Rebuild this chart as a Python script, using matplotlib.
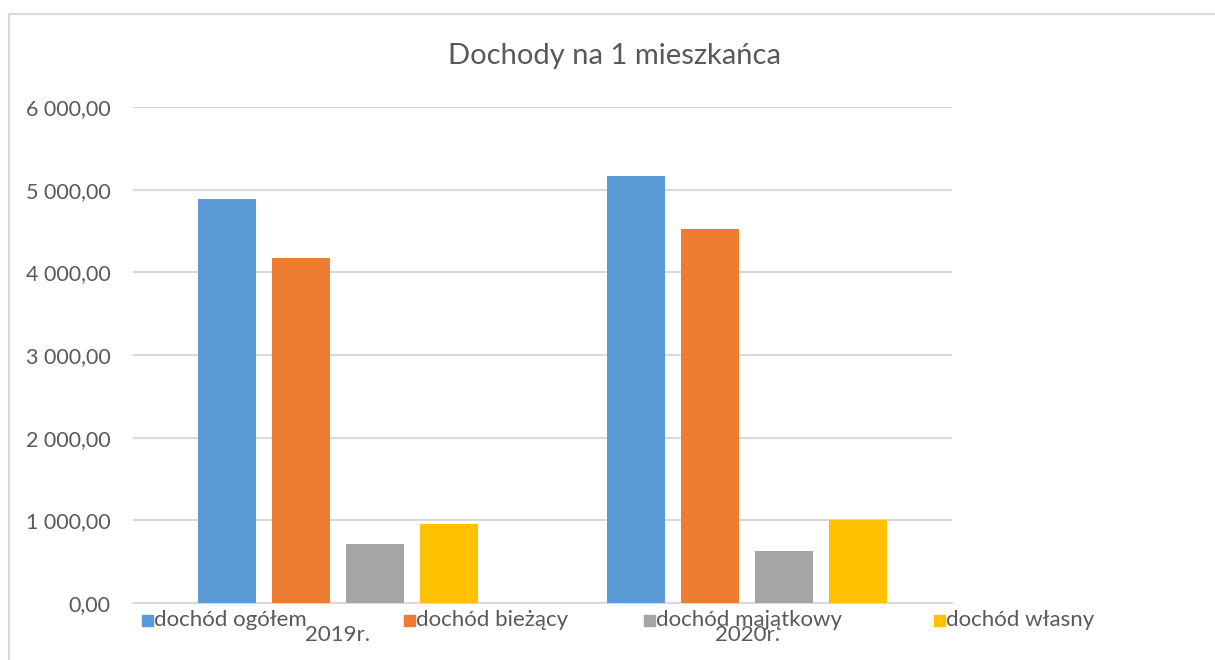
import numpy as np
import matplotlib.pyplot as plt
from matplotlib.patches import Rectangle
from matplotlib.lines import Line2D

# Data
years = ["2019r.", "2020r."]
series_names = ["dochód ogółem", "dochód bieżący", "dochód majątkowy", "dochód własny"]
ogolem = [4885, 5160]
biezacy = [4170, 4520]
majatkowy = [712, 630]
wlasny = [955, 1003]
colors = ["#5b9bd5", "#ed7d31", "#a5a5a5", "#ffc000"]
yticks = [0, 1000, 2000, 3000, 4000, 5000, 6000]
ytick_labels = ["0,00", "1 000,00", "2 000,00", "3 000,00", "4 000,00", "5 000,00", "6 000,00"]

plt.rcParams['font.family'] = ['Lato', 'DejaVu Sans']
text_color = "#595959"

fig = plt.figure(figsize=(12.15, 6.6), dpi=100)
ax = fig.add_axes([133 / 1215, 1 - 603 / 660, (952 - 133) / 1215, (603 - 107) / 660])

x = np.arange(len(years))
width = 0.1416
step = 0.1807
values = [ogolem, biezacy, majatkowy, wlasny]
for i, (vals, name, c) in enumerate(zip(values, series_names, colors)):
    ax.bar(x + (i - 1.5) * step, vals, width, color=c, label=name, zorder=3)

ax.set_xlim(-0.5, 1.5)
ax.set_ylim(0, 6000)
ax.set_yticks(yticks)
ax.set_yticklabels(ytick_labels, fontsize=15.5, color=text_color)
ax.yaxis.grid(True, color="#d9d9d9", linewidth=1.5, zorder=0)
ax.tick_params(axis="y", length=0, pad=16)
ax.set_xticks([])
for s in ["left", "right", "top"]:
    ax.spines[s].set_visible(False)
ax.spines["bottom"].set_color("#d9d9d9")
ax.spines["bottom"].set_linewidth(1.5)

# x category labels (overlapped by legend, as in original)
for xi, lab in zip(x, years):
    ax.text(xi, -0.065, lab, transform=ax.get_xaxis_transform(), ha="center", va="center",
            fontsize=16, color=text_color)

# title
fig.text(615 / 1215, 1 - 56 / 660, "Dochody na 1 mieszkańca", ha="center", va="center",
         fontsize=21, color=text_color)

# legend entries placed as in original
leg_x = [142, 404, 644, 934]
leg_y = 620
for lx, name, c in zip(leg_x, series_names, colors):
    fig.patches.append(Rectangle((lx / 1215, 1 - (leg_y + 6) / 660), 11 / 1215, 11 / 660,
                                 transform=fig.transFigure, color=c))
    fig.text((lx + 12) / 1215, 1 - leg_y / 660, name, ha="left", va="center",
             fontsize=16, color=text_color)

# chart frame
fig.lines.append(Line2D([9 / 1215, 1], [1 - 14 / 660, 1 - 14 / 660], transform=fig.transFigure,
                        color="#d9d9d9", linewidth=1.5))
fig.lines.append(Line2D([9 / 1215, 9 / 1215], [0, 1 - 14 / 660], transform=fig.transFigure,
                        color="#d9d9d9", linewidth=1.5))

fig.savefig("out.png", dpi=100, facecolor="white")
